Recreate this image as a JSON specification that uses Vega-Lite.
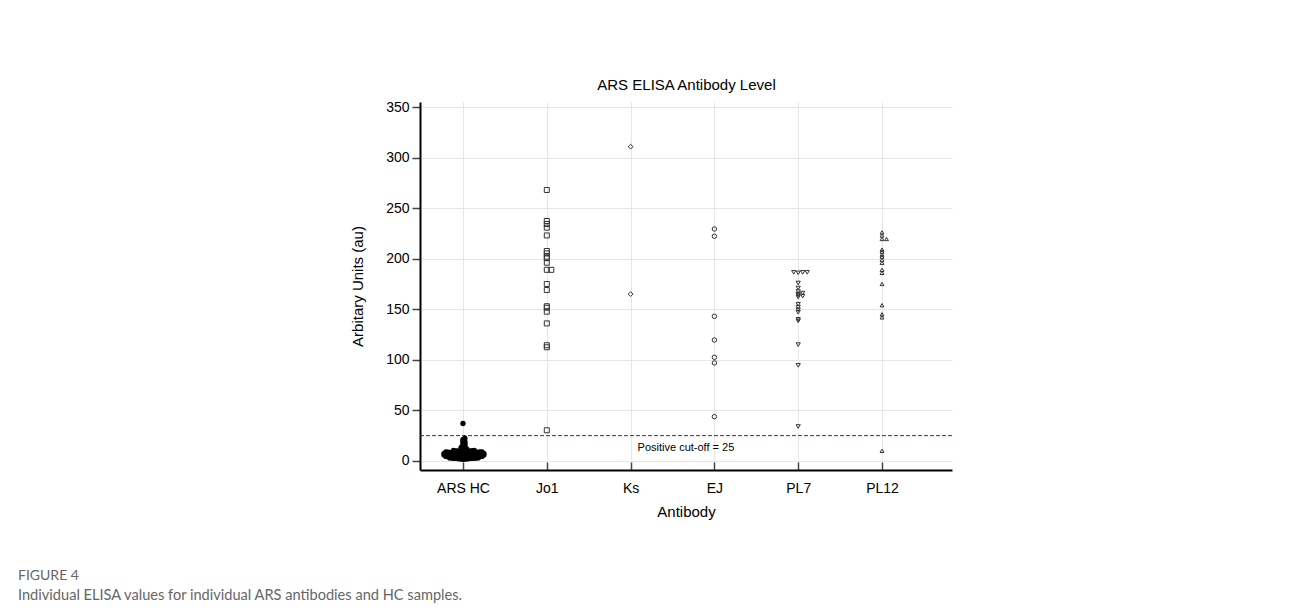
{
  "$schema": "https://vega.github.io/schema/vega-lite/v6.json",
  "width": 532,
  "height": 368,
  "autosize": {"type": "none"},
  "padding": {"left": 420, "top": 102, "right": 338, "bottom": 140},
  "background": "white",
  "config": {"font": "Liberation Sans", "view": {"stroke": null}},
  "title": {
    "text": "FIGURE 4",
    "subtitle": "Individual ELISA values for individual ARS antibodies and HC samples.",
    "orient": "bottom",
    "anchor": "start",
    "frame": "group",
    "dx": -402,
    "offset": 50,
    "font": "Lato",
    "fontSize": 14,
    "fontWeight": "normal",
    "color": "#666666",
    "subtitleFont": "Lato",
    "subtitleFontSize": 14.6,
    "subtitleColor": "#666666",
    "subtitlePadding": 5
  },
  "data": {
    "values": [
      {"antibody": "ARS HC", "value": 1.6}, {"antibody": "ARS HC", "value": 1.8}, {"antibody": "ARS HC", "value": 1.9}, {"antibody": "ARS HC", "value": 2.0},
      {"antibody": "ARS HC", "value": 2.1}, {"antibody": "ARS HC", "value": 2.2}, {"antibody": "ARS HC", "value": 2.3}, {"antibody": "ARS HC", "value": 2.4},
      {"antibody": "ARS HC", "value": 2.5}, {"antibody": "ARS HC", "value": 2.5}, {"antibody": "ARS HC", "value": 2.6}, {"antibody": "ARS HC", "value": 2.7},
      {"antibody": "ARS HC", "value": 2.8}, {"antibody": "ARS HC", "value": 2.8}, {"antibody": "ARS HC", "value": 2.9}, {"antibody": "ARS HC", "value": 2.9},
      {"antibody": "ARS HC", "value": 3.0}, {"antibody": "ARS HC", "value": 3.1}, {"antibody": "ARS HC", "value": 3.1}, {"antibody": "ARS HC", "value": 3.2},
      {"antibody": "ARS HC", "value": 3.3}, {"antibody": "ARS HC", "value": 3.4}, {"antibody": "ARS HC", "value": 3.5}, {"antibody": "ARS HC", "value": 3.5},
      {"antibody": "ARS HC", "value": 3.6}, {"antibody": "ARS HC", "value": 3.7}, {"antibody": "ARS HC", "value": 3.8}, {"antibody": "ARS HC", "value": 3.8},
      {"antibody": "ARS HC", "value": 3.9}, {"antibody": "ARS HC", "value": 4.0}, {"antibody": "ARS HC", "value": 4.0}, {"antibody": "ARS HC", "value": 4.1},
      {"antibody": "ARS HC", "value": 4.2}, {"antibody": "ARS HC", "value": 4.3}, {"antibody": "ARS HC", "value": 4.4}, {"antibody": "ARS HC", "value": 4.4},
      {"antibody": "ARS HC", "value": 4.5}, {"antibody": "ARS HC", "value": 4.6}, {"antibody": "ARS HC", "value": 4.6}, {"antibody": "ARS HC", "value": 4.7},
      {"antibody": "ARS HC", "value": 4.8}, {"antibody": "ARS HC", "value": 4.9}, {"antibody": "ARS HC", "value": 5.0}, {"antibody": "ARS HC", "value": 5.0},
      {"antibody": "ARS HC", "value": 5.1}, {"antibody": "ARS HC", "value": 5.1}, {"antibody": "ARS HC", "value": 5.2}, {"antibody": "ARS HC", "value": 5.3},
      {"antibody": "ARS HC", "value": 5.4}, {"antibody": "ARS HC", "value": 5.4}, {"antibody": "ARS HC", "value": 5.5}, {"antibody": "ARS HC", "value": 5.6},
      {"antibody": "ARS HC", "value": 5.6}, {"antibody": "ARS HC", "value": 5.7}, {"antibody": "ARS HC", "value": 5.8}, {"antibody": "ARS HC", "value": 5.8},
      {"antibody": "ARS HC", "value": 5.9}, {"antibody": "ARS HC", "value": 5.9}, {"antibody": "ARS HC", "value": 6.0}, {"antibody": "ARS HC", "value": 6.0},
      {"antibody": "ARS HC", "value": 6.1}, {"antibody": "ARS HC", "value": 6.2}, {"antibody": "ARS HC", "value": 6.2}, {"antibody": "ARS HC", "value": 6.3},
      {"antibody": "ARS HC", "value": 6.4}, {"antibody": "ARS HC", "value": 6.5}, {"antibody": "ARS HC", "value": 6.5}, {"antibody": "ARS HC", "value": 6.6},
      {"antibody": "ARS HC", "value": 6.7}, {"antibody": "ARS HC", "value": 6.7}, {"antibody": "ARS HC", "value": 6.8}, {"antibody": "ARS HC", "value": 6.9},
      {"antibody": "ARS HC", "value": 6.9}, {"antibody": "ARS HC", "value": 7.0}, {"antibody": "ARS HC", "value": 7.1}, {"antibody": "ARS HC", "value": 7.1},
      {"antibody": "ARS HC", "value": 7.2}, {"antibody": "ARS HC", "value": 7.3}, {"antibody": "ARS HC", "value": 7.4}, {"antibody": "ARS HC", "value": 7.4},
      {"antibody": "ARS HC", "value": 7.5}, {"antibody": "ARS HC", "value": 7.6}, {"antibody": "ARS HC", "value": 7.6}, {"antibody": "ARS HC", "value": 7.7},
      {"antibody": "ARS HC", "value": 7.8}, {"antibody": "ARS HC", "value": 7.9}, {"antibody": "ARS HC", "value": 8.0}, {"antibody": "ARS HC", "value": 8.0},
      {"antibody": "ARS HC", "value": 8.1}, {"antibody": "ARS HC", "value": 8.2}, {"antibody": "ARS HC", "value": 8.2}, {"antibody": "ARS HC", "value": 8.3},
      {"antibody": "ARS HC", "value": 8.4}, {"antibody": "ARS HC", "value": 8.5}, {"antibody": "ARS HC", "value": 8.5}, {"antibody": "ARS HC", "value": 8.6},
      {"antibody": "ARS HC", "value": 8.7}, {"antibody": "ARS HC", "value": 8.8}, {"antibody": "ARS HC", "value": 8.9}, {"antibody": "ARS HC", "value": 8.9},
      {"antibody": "ARS HC", "value": 9.0}, {"antibody": "ARS HC", "value": 9.1}, {"antibody": "ARS HC", "value": 9.3}, {"antibody": "ARS HC", "value": 9.4},
      {"antibody": "ARS HC", "value": 9.5}, {"antibody": "ARS HC", "value": 9.7}, {"antibody": "ARS HC", "value": 9.8}, {"antibody": "ARS HC", "value": 9.9},
      {"antibody": "ARS HC", "value": 10.0}, {"antibody": "ARS HC", "value": 10.2}, {"antibody": "ARS HC", "value": 10.3}, {"antibody": "ARS HC", "value": 10.4},
      {"antibody": "ARS HC", "value": 10.6}, {"antibody": "ARS HC", "value": 11.0}, {"antibody": "ARS HC", "value": 11.3}, {"antibody": "ARS HC", "value": 11.8},
      {"antibody": "ARS HC", "value": 12.5}, {"antibody": "ARS HC", "value": 12.9}, {"antibody": "ARS HC", "value": 13.4}, {"antibody": "ARS HC", "value": 14.2},
      {"antibody": "ARS HC", "value": 14.6}, {"antibody": "ARS HC", "value": 15.1}, {"antibody": "ARS HC", "value": 16.3}, {"antibody": "ARS HC", "value": 16.8},
      {"antibody": "ARS HC", "value": 17.5}, {"antibody": "ARS HC", "value": 18.6}, {"antibody": "ARS HC", "value": 19.2}, {"antibody": "ARS HC", "value": 19.9},
      {"antibody": "ARS HC", "value": 21.2}, {"antibody": "ARS HC", "value": 22.4}, {"antibody": "ARS HC", "value": 37.0},
      {"antibody": "Jo1", "value": 268}, {"antibody": "Jo1", "value": 237.3}, {"antibody": "Jo1", "value": 234.3}, {"antibody": "Jo1", "value": 230.7},
      {"antibody": "Jo1", "value": 223}, {"antibody": "Jo1", "value": 207.6}, {"antibody": "Jo1", "value": 205.3}, {"antibody": "Jo1", "value": 202},
      {"antibody": "Jo1", "value": 200.5}, {"antibody": "Jo1", "value": 196}, {"antibody": "Jo1", "value": 189}, {"antibody": "Jo1", "value": 189},
      {"antibody": "Jo1", "value": 175}, {"antibody": "Jo1", "value": 169}, {"antibody": "Jo1", "value": 153}, {"antibody": "Jo1", "value": 151.5},
      {"antibody": "Jo1", "value": 147.6}, {"antibody": "Jo1", "value": 136}, {"antibody": "Jo1", "value": 114.4}, {"antibody": "Jo1", "value": 112.4},
      {"antibody": "Jo1", "value": 30.3},
      {"antibody": "Ks", "value": 310.8}, {"antibody": "Ks", "value": 165},
      {"antibody": "EJ", "value": 229.4}, {"antibody": "EJ", "value": 222.2}, {"antibody": "EJ", "value": 143}, {"antibody": "EJ", "value": 119.6},
      {"antibody": "EJ", "value": 102.5}, {"antibody": "EJ", "value": 96.9}, {"antibody": "EJ", "value": 43.8},
      {"antibody": "PL7", "value": 186.5}, {"antibody": "PL7", "value": 186.5}, {"antibody": "PL7", "value": 186.5}, {"antibody": "PL7", "value": 186},
      {"antibody": "PL7", "value": 176}, {"antibody": "PL7", "value": 171}, {"antibody": "PL7", "value": 167.5}, {"antibody": "PL7", "value": 166},
      {"antibody": "PL7", "value": 165}, {"antibody": "PL7", "value": 164}, {"antibody": "PL7", "value": 163}, {"antibody": "PL7", "value": 162},
      {"antibody": "PL7", "value": 155}, {"antibody": "PL7", "value": 152}, {"antibody": "PL7", "value": 149.5}, {"antibody": "PL7", "value": 147},
      {"antibody": "PL7", "value": 140}, {"antibody": "PL7", "value": 138.5}, {"antibody": "PL7", "value": 115}, {"antibody": "PL7", "value": 94.5},
      {"antibody": "PL7", "value": 34},
      {"antibody": "PL12", "value": 226}, {"antibody": "PL12", "value": 223}, {"antibody": "PL12", "value": 219.5}, {"antibody": "PL12", "value": 219.5},
      {"antibody": "PL12", "value": 209}, {"antibody": "PL12", "value": 207}, {"antibody": "PL12", "value": 204}, {"antibody": "PL12", "value": 202},
      {"antibody": "PL12", "value": 199}, {"antibody": "PL12", "value": 196}, {"antibody": "PL12", "value": 189}, {"antibody": "PL12", "value": 186},
      {"antibody": "PL12", "value": 175}, {"antibody": "PL12", "value": 154}, {"antibody": "PL12", "value": 145}, {"antibody": "PL12", "value": 142},
      {"antibody": "PL12", "value": 10}
    ]
  },
  "transform": [
    {"bin": {"step": 1.5, "anchor": 0}, "field": "value", "as": "vbin"},
    {"window": [{"op": "row_number", "as": "rn"}], "groupby": ["antibody", "vbin"], "sort": [{"field": "value"}]},
    {"calculate": "indexof(['ARS HC','Jo1','Ks','EJ','PL7','PL12'], datum.antibody) + (datum.rn % 2 == 0 ? 1 : -1) * floor(datum.rn / 2) * (datum.antibody == 'ARS HC' ? 1.9 : 4.5) / 83.8", "as": "xpos"}
  ],
  "layer": [
    {
      "data": {"values": [{}]},
      "mark": {"type": "rule", "stroke": "#7a1a1a", "strokeDash": [4, 2], "strokeWidth": 1},
      "encoding": {"y": {"datum": 25, "type": "quantitative"}}
    },
    {
      "transform": [{"filter": "datum.antibody == 'ARS HC'"}],
      "mark": {"type": "point", "filled": true, "shape": "circle", "color": "black", "size": 28, "opacity": 1},
      "encoding": {
        "x": {
          "field": "xpos", "type": "quantitative",
          "scale": {"domain": [-0.513, 5.835], "nice": false, "zero": false},
          "axis": {
            "orient": "bottom",
            "values": [0, 1, 2, 3, 4, 5],
            "labelExpr": "['ARS HC','Jo1','Ks','EJ','PL7','PL12'][datum.value]",
            "title": "Antibody", "titleFontSize": 15, "titleFontWeight": "normal", "titleColor": "black", "titlePadding": 9,
            "labelAngle": 0, "labelFontSize": 14, "labelColor": "black", "labelPadding": 19,
            "tickSize": -8, "tickColor": "#444", "tickWidth": 1.5,
            "domainColor": "black", "domainWidth": 2,
            "grid": true, "gridColor": "#e6e6e6"
          }
        },
        "y": {
          "field": "value", "type": "quantitative",
          "scale": {"domain": [-9, 355], "nice": false, "zero": false},
          "axis": {
            "values": [0, 50, 100, 150, 200, 250, 300, 350],
            "title": "Arbitary Units (au)", "titleFontSize": 15, "titleFontWeight": "normal", "titleColor": "black", "titlePadding": 20,
            "labelFontSize": 14, "labelColor": "black", "labelPadding": 3,
            "tickSize": 8, "tickColor": "#444", "tickWidth": 1.5,
            "domainColor": "black", "domainWidth": 2,
            "grid": true, "gridColor": "#e6e6e6"
          }
        }
      }
    },
    {
      "transform": [{"filter": "datum.antibody != 'ARS HC'"}],
      "mark": {"type": "point", "filled": false, "stroke": "#333", "strokeWidth": 1, "opacity": 1},
      "encoding": {
        "x": {"field": "xpos", "type": "quantitative", "axis": null},
        "y": {"field": "value", "type": "quantitative"},
        "shape": {"field": "antibody", "type": "nominal", "scale": {"domain": ["Jo1", "Ks", "EJ", "PL7", "PL12"], "range": ["square", "diamond", "circle", "triangle-down", "triangle-up"]}, "legend": null},
        "size": {"field": "antibody", "type": "nominal", "scale": {"domain": ["Jo1", "Ks", "EJ", "PL7", "PL12"], "range": [25, 15, 20, 20, 20]}, "legend": null}
      }
    },
    {
      "data": {"values": [{}]},
      "mark": {"type": "text", "text": "Positive cut-off = 25", "fontSize": 11, "align": "center", "baseline": "middle", "color": "black"},
      "encoding": {
        "x": {"datum": 2.66, "type": "quantitative", "axis": {"orient": "top", "title": "ARS ELISA Antibody Level", "titleFontSize": 15, "titleFontWeight": "normal", "titleColor": "black", "titlePadding": 10, "labels": false, "ticks": false, "domain": false, "grid": false}},
        "y": {"datum": 13, "type": "quantitative"}
      }
    }
  ],
  "resolve": {"axis": {"x": "independent"}}
}
